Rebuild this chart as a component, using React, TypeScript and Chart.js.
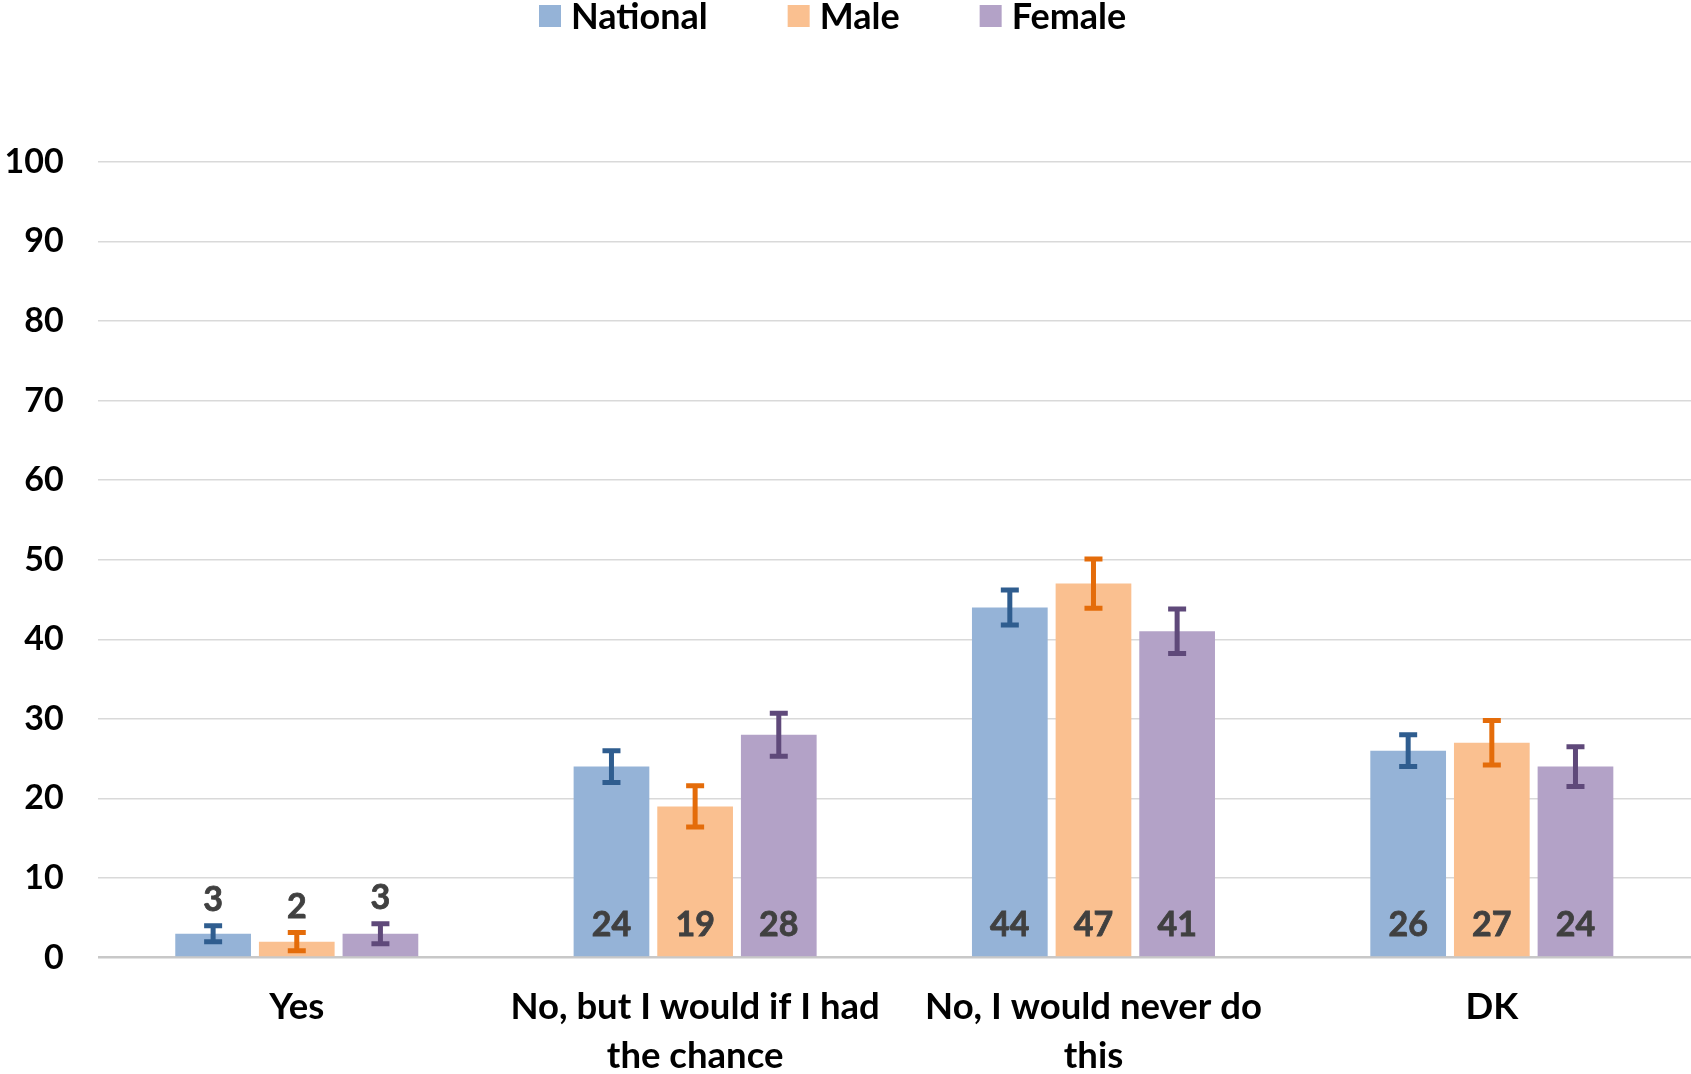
import React, { useEffect, useRef } from "react";
import { Chart, registerables } from "chart.js";

Chart.register(...registerables);

const categories: (string | string[])[] = [
  "Yes",
  ["No, but I would if I had", "the chance"],
  ["No, I would never do", "this"],
  "DK",
];
const seriesNames = ["National", "Male", "Female"];
const nationalValues = [3, 24, 44, 26];
const maleValues = [2, 19, 47, 27];
const femaleValues = [3, 28, 41, 24];
const nationalErrors = [1.0, 2.0, 2.2, 2.0];
const maleErrors = [1.15, 2.6, 3.1, 2.8];
const femaleErrors = [1.25, 2.7, 2.8, 2.5];
const yTicks = [0, 10, 20, 30, 40, 50, 60, 70, 80, 90, 100];

const barColors = ["#95B3D7", "#FAC090", "#B3A2C7"];
const errColors = ["#2F5D8F", "#E46C0A", "#5F497A"];
const FONT = "Lato, 'Open Sans', sans-serif";

export default function App() {
  const ref = useRef<HTMLCanvasElement | null>(null);

  useEffect(() => {
    if (!ref.current) return;
    const values = [nationalValues, maleValues, femaleValues];
    const errors = [nationalErrors, maleErrors, femaleErrors];

    const errPlugin = {
      id: "errbars",
      afterDatasetsDraw(chart: any) {
        const ctx = chart.ctx;
        const y = chart.scales.y;
        const base = y.getPixelForValue(0);
        chart.data.datasets.forEach((ds: any, di: number) => {
          const meta = chart.getDatasetMeta(di);
          meta.data.forEach((bar: any, i: number) => {
            const v = ds.data[i];
            const e = errors[di][i];
            const x = bar.x;
            const yTop = y.getPixelForValue(v + e);
            const yBot = y.getPixelForValue(v - e);
            ctx.save();
            ctx.strokeStyle = errColors[di];
            ctx.lineWidth = 5;
            ctx.lineCap = "butt";
            ctx.beginPath();
            ctx.moveTo(x, yTop);
            ctx.lineTo(x, yBot);
            ctx.moveTo(x - 9, yTop);
            ctx.lineTo(x + 9, yTop);
            ctx.moveTo(x - 9, yBot);
            ctx.lineTo(x + 9, yBot);
            ctx.stroke();
            ctx.fillStyle = "#404040";
            ctx.strokeStyle = "#404040";
            ctx.lineWidth = 0.8;
            ctx.font = `bold 34px ${FONT}`;
            ctx.textAlign = "center";
            ctx.textBaseline = "middle";
            const ly = v < 10 ? yTop - 26 : base - 33;
            ctx.fillText(String(v), x, ly);
            ctx.strokeText(String(v), x, ly);
            ctx.restore();
          });
        });
      },
    };

    const legendPlugin = {
      id: "customLegend",
      afterDraw(chart: any) {
        const ctx = chart.ctx;
        ctx.save();
        ctx.font = `bold 36px ${FONT}`;
        ctx.textBaseline = "middle";
        ctx.textAlign = "left";
        let x = 539;
        const cy = 16;
        seriesNames.forEach((name, i) => {
          ctx.fillStyle = barColors[i];
          ctx.fillRect(x, cy - 11, 22, 22);
          ctx.fillStyle = "#000000";
          ctx.fillText(name, x + 32, cy + 1);
          x += 32 + ctx.measureText(name).width + 80;
        });
        ctx.restore();
      },
    };

    const chart = new Chart(ref.current, {
      type: "bar",
      data: {
        labels: categories,
        datasets: seriesNames.map((name, i) => ({
          label: name,
          data: values[i],
          backgroundColor: barColors[i],
          borderWidth: 0,
          categoryPercentage: 0.63,
          barPercentage: 0.905,
        })),
      },
      options: {
        animation: false,
        responsive: false,
        maintainAspectRatio: false,
        layout: { padding: { top: 161.8, left: 0, right: 0, bottom: 0 } },
        plugins: {
          legend: { display: false },
          tooltip: { enabled: false },
          title: { display: false },
        },
        scales: {
          x: {
            grid: { display: false, drawTicks: false },
            border: { display: false },
            ticks: {
              color: "#000000",
              font: { family: FONT, size: 36.5, weight: "bold", lineHeight: 1.32 },
              padding: 26,
              maxRotation: 0,
              autoSkip: false,
            },
            afterFit(scale: any) {
              scale.height = 116.4;
            },
          },
          y: {
            min: 0,
            max: 100,
            afterBuildTicks(scale: any) {
              scale.ticks = yTicks.map((v) => ({ value: v }));
            },
            grid: {
              drawTicks: false,
              color: (c: any) => (c.tick && c.tick.value === 0 ? "#C8C8C8" : "#D9D9D9"),
              lineWidth: (c: any) => (c.tick && c.tick.value === 0 ? 2.5 : 1.5),
            },
            border: { display: false },
            ticks: {
              color: "#000000",
              font: { family: FONT, size: 34, weight: "bold" },
              padding: 34,
            },
            afterFit(scale: any) {
              scale.width = 97.6;
            },
          },
        },
      },
      plugins: [errPlugin, legendPlugin],
    });
    return () => chart.destroy();
  }, []);

  return (
    <div style={{ position: "fixed", left: 0, top: 0, width: 1691, height: 1074, background: "#ffffff" }}>
      <canvas ref={ref} width={1691} height={1074} style={{ display: "block" }} />
    </div>
  );
}
